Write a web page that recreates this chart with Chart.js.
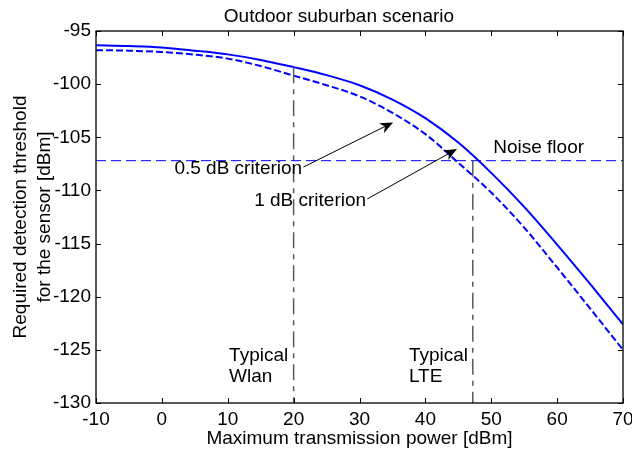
<!DOCTYPE html>
<html>
<head>
<meta charset="utf-8">
<script src="https://cdn.jsdelivr.net/npm/chart.js@4.4.1/dist/chart.umd.min.js"></script>
<style>
    html, body { margin: 0; padding: 0; background: #fff; }
    #wrap { width: 632px; height: 452px; }
</style>
</head>
<body>
<div id="wrap"><canvas id="grafico-limiar" width="632" height="452"></canvas></div>
<script>
// Required detection threshold vs. max transmission power (outdoor suburban)

const potencia = [-10, -5, 0, 5, 10, 15, 20, 25, 30, 35, 40, 45, 50, 55, 60, 65, 70];
const criterio1dB = [-96.35, -96.42, -96.55, -96.85, -97.2, -97.72, -98.4, -99.15, -100.1,
    -101.45, -103.2, -105.5, -108.35, -111.55, -115.1, -118.8, -122.6];
const criterio05dB = [-96.8, -96.85, -96.98, -97.22, -97.6, -98.3, -99.2, -100.1, -101.15,
    -102.7, -104.7, -107.4, -110.2, -113.5, -117.25, -121.1, -125.0];
const nivelRuido = -107.2;
const marcadoresX = [20, 47.2];          // Typical Wlan, Typical LTE
const marcadoresTopo = [-98.4, -107.2];  // where the dash-dot markers start
const xTicks = [-10, 0, 10, 20, 30, 40, 50, 60, 70];
const yTicks = [-130, -125, -120, -115, -110, -105, -100, -95];

const FONTE = '"Liberation Sans", Arial, Helvetica, sans-serif';
Chart.defaults.font.family = FONTE;
Chart.defaults.font.size = 19;
Chart.defaults.color = '#000';

// arrows and labels, in data coordinates
const setas = [
    { de: [21.5, -107.8], para: [35.1, -103.6] },
    { de: [31.2, -110.8], para: [44.8, -106.1] }
];
const textos = [
    { texto: '0.5 dB criterion', x: 21.3, y: -108.0, align: 'right' },
    { texto: '1 dB criterion', x: 31.0, y: -111.0, align: 'right' },
    { texto: 'Noise floor', x: 50.3, y: -106.0, align: 'left' },
    { texto: 'Typical', x: 10.2, y: -125.55, align: 'left' },
    { texto: 'Wlan', x: 10.2, y: -127.5, align: 'left' },
    { texto: 'Typical', x: 37.5, y: -125.55, align: 'left' },
    { texto: 'LTE', x: 37.5, y: -127.5, align: 'left' }
];

function desenharSeta(ctx, x0, y0, x1, y1) {
    const ang = Math.atan2(y1 - y0, x1 - x0);
    const L = 13, W = 5.5;
    ctx.beginPath();
    ctx.moveTo(x0, y0);
    ctx.lineTo(x1 - Math.cos(ang) * L * 0.7, y1 - Math.sin(ang) * L * 0.7);
    ctx.stroke();
    ctx.save();
    ctx.translate(x1, y1);
    ctx.rotate(ang);
    ctx.beginPath();
    ctx.moveTo(0, 0);
    ctx.lineTo(-L, W);
    ctx.lineTo(-L * 0.7, 0);
    ctx.lineTo(-L, -W);
    ctx.closePath();
    ctx.fill();
    ctx.restore();
}

const pluginMoldura = {
    id: 'moldura',
    afterDatasetsDraw(chart) {
        const { ctx, chartArea: a, scales: { x, y } } = chart;
        ctx.save();
        ctx.strokeStyle = '#000';
        ctx.fillStyle = '#000';
        ctx.lineWidth = 1.3;
        ctx.strokeRect(a.left, a.top, a.right - a.left, a.bottom - a.top);

        // inward ticks on all four sides
        ctx.lineWidth = 1;
        ctx.beginPath();
        xTicks.forEach(v => {
            const px = Math.round(x.getPixelForValue(v)) + 0.5;
            ctx.moveTo(px, a.bottom); ctx.lineTo(px, a.bottom - 5);
            ctx.moveTo(px, a.top); ctx.lineTo(px, a.top + 5);
        });
        yTicks.forEach(v => {
            const py = Math.round(y.getPixelForValue(v)) + 0.5;
            ctx.moveTo(a.left, py); ctx.lineTo(a.left + 5, py);
            ctx.moveTo(a.right, py); ctx.lineTo(a.right - 5, py);
        });
        ctx.stroke();

        // arrows
        setas.forEach(s => {
            desenharSeta(ctx,
                x.getPixelForValue(s.de[0]), y.getPixelForValue(s.de[1]),
                x.getPixelForValue(s.para[0]), y.getPixelForValue(s.para[1]));
        });

        // text labels
        ctx.font = '19px ' + FONTE;
        ctx.textBaseline = 'middle';
        textos.forEach(t => {
            ctx.textAlign = t.align;
            ctx.fillText(t.texto, x.getPixelForValue(t.x), y.getPixelForValue(t.y));
        });

        // title
        ctx.textAlign = 'center';
        ctx.fillText('Outdoor suburban scenario', a.left + (a.right - a.left) * 0.461, 16.5);
        ctx.restore();
    }
};

function criarGrafico() {
    const ctx = document.getElementById('grafico-limiar');

    const marcadores = marcadoresX.map((mx, i) => ({
        label: 'marker ' + i,
        data: [{ x: mx, y: marcadoresTopo[i] }, { x: mx, y: yTicks[0] }],
        borderColor: '#5a5a5a',
        borderWidth: 1.5,
        borderDash: [16, 6, 5, 6],
        pointRadius: 0,
        fill: false
    }));

    new Chart(ctx.getContext('2d'), {
        type: 'line',
        data: {
            datasets: [
                {
                    label: 'Noise floor',
                    data: [{ x: xTicks[0], y: nivelRuido }, { x: xTicks[xTicks.length - 1], y: nivelRuido }],
                    borderColor: '#0000ff',
                    borderWidth: 1,
                    borderDash: [10, 5],
                    pointRadius: 0,
                    fill: false
                },
                ...marcadores,
                {
                    label: '1 dB criterion',
                    data: potencia.map((p, i) => ({ x: p, y: criterio1dB[i] })),
                    borderColor: '#0000ff',
                    borderWidth: 2,
                    pointRadius: 0,
                    cubicInterpolationMode: 'monotone',
                    fill: false
                },
                {
                    label: '0.5 dB criterion',
                    data: potencia.map((p, i) => ({ x: p, y: criterio05dB[i] })),
                    borderColor: '#0000ff',
                    borderWidth: 2,
                    borderDash: [7, 3],
                    pointRadius: 0,
                    cubicInterpolationMode: 'monotone',
                    fill: false
                }
            ]
        },
        options: {
            responsive: false,
            animation: false,
            layout: { padding: { top: 31, right: 9, left: 0, bottom: 0 } },
            plugins: {
                legend: { display: false },
                title: { display: false },
                tooltip: { enabled: false }
            },
            scales: {
                x: {
                    type: 'linear',
                    min: xTicks[0],
                    max: xTicks[xTicks.length - 1],
                    afterBuildTicks: s => { s.ticks = xTicks.map(v => ({ value: v })); },
                    afterFit: s => { s.height = 49; s.paddingLeft = 0; s.paddingRight = 0; },
                    grid: { display: false, drawTicks: false },
                    border: { display: false },
                    ticks: { padding: 5, maxRotation: 0, autoSkip: false, color: '#000' },
                    title: {
                        display: true,
                        text: 'Maximum transmission power [dBm]',
                        color: '#000',
                        padding: { top: 0, bottom: 2 }
                    }
                },
                y: {
                    type: 'linear',
                    min: yTicks[0],
                    max: yTicks[yTicks.length - 1],
                    afterBuildTicks: s => { s.ticks = yTicks.map(v => ({ value: v })); },
                    afterFit: s => { s.width = 96; s.paddingTop = 0; s.paddingBottom = 0; },
                    grid: { display: false, drawTicks: false },
                    border: { display: false },
                    ticks: { padding: 5, autoSkip: false, color: '#000' },
                    title: {
                        display: true,
                        text: ['Required detection threshold', 'for the sensor [dBm]'],
                        color: '#000',
                        font: { size: 19, lineHeight: 1.25 },
                        padding: { top: 9, bottom: 0 }
                    }
                }
            }
        },
        plugins: [pluginMoldura]
    });
}

criarGrafico();
</script>
</body>
</html>
